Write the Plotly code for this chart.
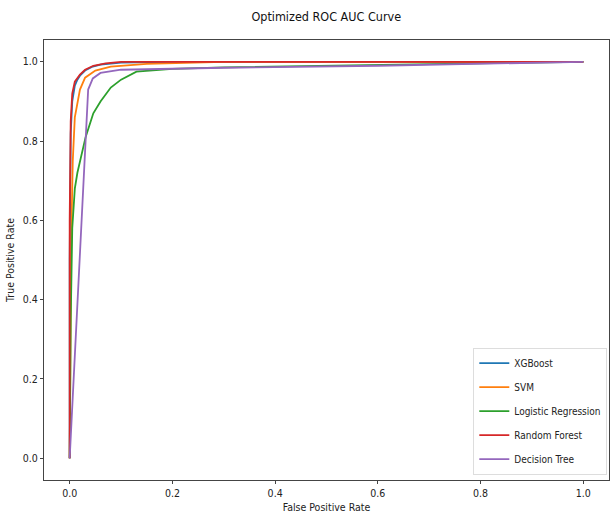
import plotly.graph_objects as go

models = ["XGBoost", "SVM", "Logistic Regression", "Random Forest", "Decision Tree"]
colors = ["#1f77b4", "#ff7f0e", "#2ca02c", "#d62728", "#9467bd"]

xgb_fpr = [0, 0, 0.002, 0.005, 0.01, 0.015, 0.02, 0.03, 0.045, 0.06, 0.1, 0.2, 0.4, 1.0]
xgb_tpr = [0, 0.5, 0.82, 0.9, 0.94, 0.955, 0.965, 0.978, 0.988, 0.993, 0.998, 1.0, 1.0, 1.0]

svm_fpr = [0, 0.001, 0.003, 0.006, 0.01, 0.02, 0.03, 0.05, 0.08, 0.15, 0.3, 1.0]
svm_tpr = [0, 0.3, 0.55, 0.75, 0.86, 0.93, 0.96, 0.978, 0.988, 0.995, 1.0, 1.0]

lr_fpr = [0, 0.002, 0.005, 0.01, 0.015, 0.022, 0.031, 0.046, 0.06, 0.08, 0.1, 0.13, 0.2, 0.3, 0.5, 0.7, 1.0]
lr_tpr = [0, 0.35, 0.58, 0.68, 0.72, 0.76, 0.81, 0.87, 0.9, 0.935, 0.955, 0.975, 0.982, 0.986, 0.99, 0.995, 1.0]

rf_fpr = [0, 0, 0.002, 0.005, 0.01, 0.02, 0.03, 0.046, 0.07, 0.1, 0.3, 1.0]
rf_tpr = [0, 0.6, 0.85, 0.92, 0.95, 0.968, 0.98, 0.99, 0.996, 1.0, 1.0, 1.0]

dt_fpr = [0, 0.036, 0.045, 0.06, 0.1, 0.3, 0.6, 1.0]
dt_tpr = [0, 0.93, 0.958, 0.972, 0.98, 0.985, 0.99, 1.0]

fprs = [xgb_fpr, svm_fpr, lr_fpr, rf_fpr, dt_fpr]
tprs = [xgb_tpr, svm_tpr, lr_tpr, rf_tpr, dt_tpr]

fig = go.Figure()
for i, (name, c, x, y) in enumerate(zip(models, colors, fprs, tprs)):
    fig.add_trace(go.Scatter(x=x, y=y, mode="lines", name=name, legendgroup=f"g{i}",
                             line=dict(color=c, width=1.8)))

font_family = "DejaVu Sans Condensed, sans-serif"
axis_common = dict(showgrid=False, zeroline=False, showline=True, linecolor="#444",
                   linewidth=1, mirror=True, ticks="outside", ticklen=3,
                   tickcolor="#444", tickfont=dict(size=10.5, color="#222"))

fig.update_layout(
    width=611, height=527,
    margin=dict(l=44, r=2, t=40, b=47),
    paper_bgcolor="white", plot_bgcolor="white",
    font=dict(family=font_family, color="#222"),
    title=dict(text="Optimized ROC AUC Curve", x=0.534, xanchor="center",
               y=0.968, yanchor="middle", font=dict(size=12.5, color="#111")),
    xaxis=dict(range=[-0.05, 1.05], tickvals=[0, 0.2, 0.4, 0.6, 0.8, 1.0],
               ticktext=["0.0", "0.2", "0.4", "0.6", "0.8", "1.0"],
               title=dict(text="False Positive Rate", font=dict(size=10.5), standoff=6),
               **axis_common),
    yaxis=dict(range=[-0.055, 1.055], tickvals=[0, 0.2, 0.4, 0.6, 0.8, 1.0],
               ticktext=["0.0", "0.2", "0.4", "0.6", "0.8", "1.0"],
               title=dict(text="True Positive Rate", font=dict(size=10.5), standoff=6),
               **axis_common),
    legend=dict(x=0.997, y=0.012, xanchor="right", yanchor="bottom",
                bgcolor="rgba(255,255,255,0.9)", bordercolor="#ddd", borderwidth=1,
                font=dict(size=10), tracegroupgap=5, itemwidth=30),
    showlegend=True,
)

fig.write_html("out.html")
